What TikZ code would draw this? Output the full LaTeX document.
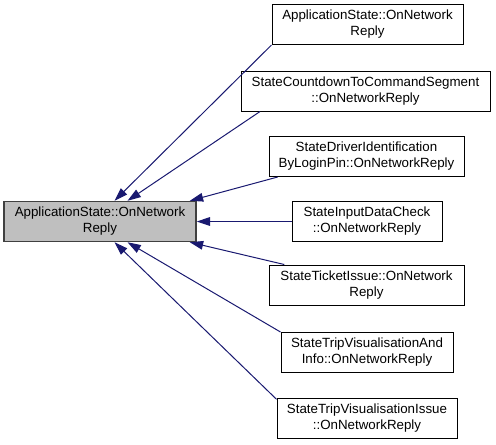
\documentclass[tikz,border=0pt]{standalone}
\usepackage{fontspec}
\setmainfont{Liberation Sans}
\usetikzlibrary{arrows.meta}
\definecolor{dxedge}{HTML}{191970}
\definecolor{dxfill}{HTML}{BFBFBF}
\definecolor{dxborder}{HTML}{404040}

\begin{document}
\begin{tikzpicture}[x=0.75pt, y=-0.75pt, font=\fontsize{10}{12}\selectfont,
    fn/.style={draw=black, fill=white, line width=0.75pt, align=center,
               minimum height=30pt, inner sep=2pt},
    cur/.style={fn, fill=dxfill, draw=dxborder, line width=1.1pt},
    call/.style={draw=dxedge, line width=0.75pt,
                 {Triangle[length=10pt,width=6.5pt,fill=dxedge]}-}]
    \useasboundingbox (0,0) rectangle (496,444);

    % current function
    \node[cur, minimum width=144pt] (cur) at (100,221.5)
          {ApplicationState::OnNetwork\\Reply};

    % callers
    \node[fn, minimum width=143.25pt] (appstate) at (367.5,24.5)
          {ApplicationState::OnNetwork\\Reply};
    \node[fn, minimum width=186.75pt] (countdown) at (365.5,91)
          {StateCountdownToCommandSegment\\::OnNetworkReply};
    \node[fn, minimum width=146.25pt] (driverid) at (366.5,156.5)
          {StateDriverIdentification\\ByLoginPin::OnNetworkReply};
    \node[fn, minimum width=112.5pt] (inputcheck) at (367,221.5)
          {StateInputDataCheck\\::OnNetworkReply};
    \node[fn, minimum width=146.25pt] (ticket) at (366.5,285)
          {StateTicketIssue::OnNetwork\\Reply};
    \node[fn, minimum width=129pt] (tripinfo) at (367,352.5)
          {StateTripVisualisationAnd\\Info::OnNetworkReply};
    \node[fn, minimum width=135pt] (tripissue) at (367,418.5)
          {StateTripVisualisationIssue\\::OnNetworkReply};

    % call edges
    \draw[call] (cur.55.7) -- (appstate.south west);
    \draw[call] (cur.37.2) -- (countdown.191.3);
    \draw[call] (cur.13.9) -- (driverid.193.5);
    \draw[call] (cur.east) -- (inputcheck.west);
    \draw[call] (cur.-13.9) -- (ticket.166.2);
    \draw[call] (cur.-37.2) -- (tripinfo.north west);
    \draw[call] (cur.-55.7) -- (tripissue.168);
\end{tikzpicture}
\end{document}
